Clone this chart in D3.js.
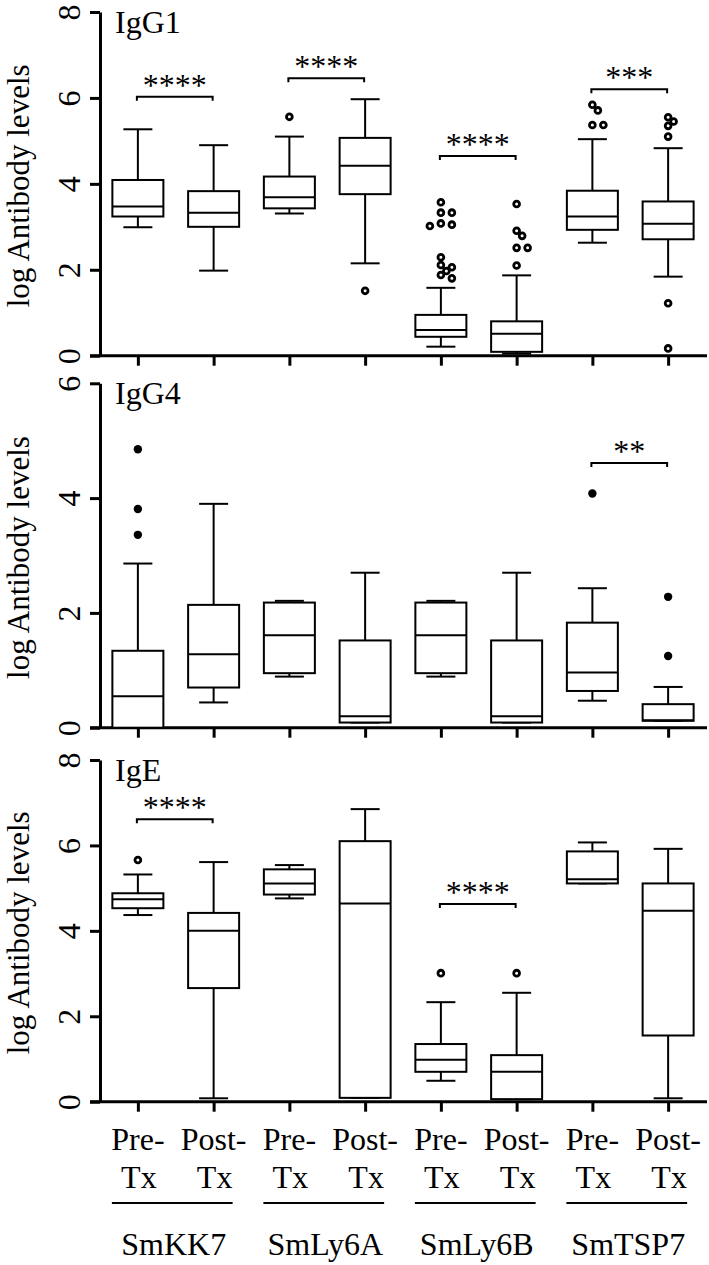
<!DOCTYPE html>
<html>
<head>
<meta charset="utf-8">
<script src="https://cdn.jsdelivr.net/npm/d3@7"></script>
<style>
  html, body { margin: 0; padding: 0; background: #fff; }
  svg { display: block; }
  svg text { font-family: "Liberation Serif", "Times New Roman", Times, serif; fill: #000; }
</style>
</head>
<body>
<svg id="chart" width="709" height="1265"></svg>
<script>
// ---------------- data ----------------
const groups = ["SmKK7", "SmLy6A", "SmLy6B", "SmTSP7"];
const phases = ["Pre-", "Post-"];
const phaseSuffix = "Tx";
const axisTitle = "log Antibody levels";

// five-number summaries per box: [low whisker, Q1, median, Q3, high whisker]
const igg1Stats = [
  [2.99, 3.24, 3.47, 4.09, 5.27], [1.98, 3.00, 3.33, 3.83, 4.90],
  [3.31, 3.43, 3.69, 4.17, 5.10], [2.15, 3.76, 4.42, 5.07, 5.97],
  [0.21, 0.44, 0.60, 0.95, 1.58], [0.05, 0.09, 0.51, 0.80, 1.87],
  [2.63, 2.93, 3.24, 3.84, 5.04], [1.84, 2.71, 3.07, 3.59, 4.83]
];
const igg1Outliers = [
  [], [], [5.56], [1.51],
  [3.57, 3.33, 3.33, 3.08, 3.05, 3.02, 2.29, 2.11, 2.06, 1.97, 1.88, 1.80],
  [3.53, 2.91, 2.79, 2.51, 2.51, 2.10],
  [5.84, 5.71, 5.37, 5.37],
  [5.55, 5.45, 5.35, 5.10, 1.22, 0.17]
];
const igg1Sig = [[0, 6.03, "****"], [1, 6.46, "****"], [2, 4.65, "****"], [3, 6.20, "***"]];
const igg1Ticks = [0, 2, 4, 6, 8];

const igg4Stats = [
  [0.00, 0.00, 0.55, 1.34, 2.86], [0.44, 0.70, 1.28, 2.14, 3.90],
  [0.89, 0.95, 1.61, 2.18, 2.21], [0.09, 0.09, 0.20, 1.52, 2.70],
  [0.89, 0.95, 1.61, 2.18, 2.21], [0.09, 0.09, 0.20, 1.52, 2.70],
  [0.47, 0.64, 0.96, 1.83, 2.43], [0.12, 0.12, 0.13, 0.41, 0.71]
];
const igg4Outliers = [[4.85, 3.81, 3.36], [], [], [], [], [], [4.08], [2.28, 1.25]];
const igg4Sig = [[3, 4.61, "**"]];
const igg4Ticks = [0, 2, 4, 6];

const igeStats = [
  [4.37, 4.53, 4.74, 4.88, 5.32], [0.08, 2.66, 4.00, 4.42, 5.61],
  [4.76, 4.85, 5.11, 5.44, 5.54], [0.09, 0.09, 4.64, 6.10, 6.85],
  [0.49, 0.70, 0.98, 1.35, 2.33], [0.06, 0.06, 0.70, 1.09, 2.55],
  [5.11, 5.11, 5.21, 5.86, 6.07], [0.08, 1.55, 4.47, 5.11, 5.92]
];
const igeOutliers = [[5.66], [], [], [], [3.01], [3.01], [], []];
const igeSig = [[0, 6.61, "****"], [2, 4.63, "****"]];
const igeTicks = [0, 2, 4, 6, 8];

const panelTitles = ["IgG1", "IgG4", "IgE"];

// ---------------- layout ----------------
const FONT = "'Liberation Serif', 'Times New Roman', Times, serif";
const svg = d3.select("#chart").attr("font-family", FONT);
const FS = 32;
const boxKeys = [];
groups.forEach(g => phases.forEach(p => boxKeys.push(g + "|" + p)));

const x = d3.scalePoint().domain(boxKeys).range([100, 706]).padding(0.5);

const panels = [
  { title: panelTitles[0], stats: igg1Stats, out: igg1Outliers, sig: igg1Sig, ticks: igg1Ticks, top: 12, bottom: 355.7, ring: true },
  { title: panelTitles[1], stats: igg4Stats, out: igg4Outliers, sig: igg4Sig, ticks: igg4Ticks, top: 383.3, bottom: 727.7, ring: false },
  { title: panelTitles[2], stats: igeStats, out: igeOutliers, sig: igeSig, ticks: igeTicks, top: 760, bottom: 1101.7, ring: true }
];

const boxW = 51, capW = 29;

function txt(sel) {
  return sel.style("font-family", FONT).style("font-size", FS + "px");
}

panels.forEach(p => {
  const ymax = d3.max(p.ticks);
  const y = d3.scaleLinear().domain([0, ymax]).range([p.bottom, p.top]);
  const g = svg.append("g");

  // y axis
  const ya = g.append("g").attr("transform", "translate(100,0)")
    .call(d3.axisLeft(y).tickValues(p.ticks).tickSize(10).tickSizeOuter(0).tickFormat(d3.format("d")));
  ya.attr("font-family", FONT);
  ya.select(".domain").attr("stroke-width", 3);
  ya.selectAll(".tick line").attr("stroke-width", 3);
  txt(ya.selectAll(".tick text"))
    .attr("x", null).attr("dy", null)
    .attr("text-anchor", "middle")
    .attr("transform", "translate(-20,0) rotate(-90)");

  // x axis ticks
  const xa = g.append("g").attr("transform", `translate(0,${p.bottom})`)
    .call(d3.axisBottom(x).tickSize(10).tickFormat(""));
  xa.select(".domain").remove();
  xa.selectAll(".tick line").attr("stroke-width", 3);
  g.append("line")
    .attr("x1", x.range()[0] - 10).attr("x2", x.range()[1] + 1)
    .attr("y1", p.bottom).attr("y2", p.bottom)
    .attr("stroke", "#000").attr("stroke-width", 3);

  // axis title
  txt(g.append("text"))
    .attr("transform", `translate(29,${(p.top + p.bottom) / 2 + 2}) rotate(-90)`)
    .attr("text-anchor", "middle")
    .style("font-size", "31px")
    .text(axisTitle);

  // panel title
  txt(g.append("text"))
    .attr("x", 115).attr("y", p.top + 21)
    .text(p.title);

  // boxes
  p.stats.forEach((s, i) => {
    const cx = x(boxKeys[i]);
    const [lo, q1, md, q3, hi] = s;
    const bg = g.append("g").attr("stroke", "#000").attr("stroke-width", 2).attr("fill", "none");
    bg.append("line").attr("x1", cx).attr("x2", cx).attr("y1", y(hi)).attr("y2", y(q3));
    bg.append("line").attr("x1", cx).attr("x2", cx).attr("y1", y(q1)).attr("y2", y(lo));
    bg.append("line").attr("x1", cx - capW / 2).attr("x2", cx + capW / 2).attr("y1", y(hi)).attr("y2", y(hi));
    bg.append("line").attr("x1", cx - capW / 2).attr("x2", cx + capW / 2).attr("y1", y(lo)).attr("y2", y(lo));
    bg.append("rect").attr("x", cx - boxW / 2).attr("width", boxW)
      .attr("y", y(q3)).attr("height", y(q1) - y(q3)).attr("fill", "#fff");
    bg.append("line").attr("x1", cx - boxW / 2).attr("x2", cx + boxW / 2).attr("y1", y(md)).attr("y2", y(md));

    // outliers with a simple dodge for overlapping points
    const placed = [];
    const minD = 6.5, step = 5.5;
    p.out[i].slice().sort((a, b) => b - a).forEach(v => {
      const py = y(v);
      const offsets = [0, step, -step, 2 * step, -2 * step];
      let ox = 0;
      for (const o of offsets) {
        if (placed.every(q => Math.hypot(q[0] - o, q[1] - py) >= minD)) { ox = o; break; }
      }
      placed.push([ox, py]);
      if (p.ring) {
        g.append("circle").attr("cx", cx + ox).attr("cy", py).attr("r", 2.9)
          .attr("fill", "#fff").attr("stroke", "#000").attr("stroke-width", 2.8);
      } else {
        g.append("circle").attr("cx", cx + ox).attr("cy", py).attr("r", 4.2).attr("fill", "#000");
      }
    });
  });

  // significance brackets
  p.sig.forEach(([gi, v, lab]) => {
    const x1 = x(boxKeys[gi * 2]) - 1, x2 = x(boxKeys[gi * 2 + 1]) - 1;
    const by = y(v);
    g.append("path")
      .attr("d", `M${x1},${by + 4}V${by}H${x2}V${by + 4}`)
      .attr("fill", "none").attr("stroke", "#000").attr("stroke-width", 2);
    txt(g.append("text"))
      .attr("x", (x1 + x2) / 2).attr("y", by - 1)
      .attr("text-anchor", "middle")
      .text(lab);
  });
});

// x labels
const lab = svg.append("g");
boxKeys.forEach((k, i) => {
  const cx = x(k);
  txt(lab.append("text")).attr("x", cx).attr("y", 1150).attr("text-anchor", "middle")
    .text(phases[i % 2]);
  txt(lab.append("text")).attr("x", cx + 1).attr("y", 1188).attr("text-anchor", "middle")
    .text(phaseSuffix);
});
groups.forEach((gname, gi) => {
  const xa = x(boxKeys[gi * 2]), xb = x(boxKeys[gi * 2 + 1]);
  lab.append("line").attr("x1", xa - 26).attr("x2", xb + 19)
    .attr("y1", 1203).attr("y2", 1203).attr("stroke", "#000").attr("stroke-width", 2);
  txt(lab.append("text")).attr("x", (xa + xb) / 2 - 2).attr("y", 1255).attr("text-anchor", "middle")
    .text(gname);
});
</script>
</body>
</html>
